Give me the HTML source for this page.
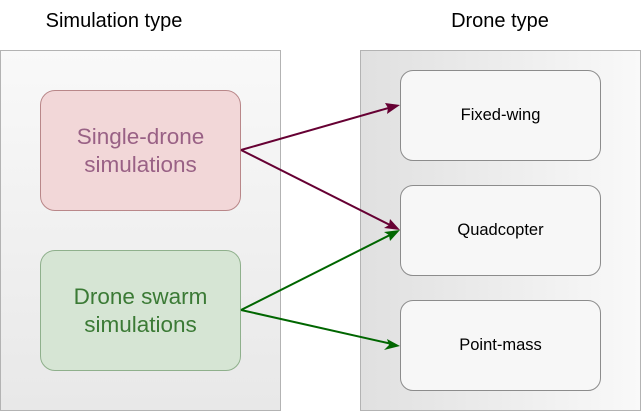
<!DOCTYPE html>
<html><head><style>
body{margin:0;width:641px;height:411px;background:#fff;position:relative;overflow:hidden;font-family:"Liberation Sans",Helvetica,Arial,sans-serif}
.t{position:absolute;top:10px;font-size:20px;color:#000;text-align:center;width:230px}
.c{position:absolute;box-sizing:border-box;border:1px solid #b3b3b3}
.b{position:absolute;box-sizing:border-box;border-radius:15px;display:flex;align-items:center;justify-content:center;text-align:center}
.r{border:1px solid #8c8c8c;background:#f7f7f7;font-size:16.5px;color:#000;width:201px;height:91px;left:400px;border-radius:13px}
</style></head><body>
<div class="t" style="left:0;width:228px">Simulation type</div>
<div class="t" style="left:385px">Drone type</div>
<div class="c" style="left:0;top:50px;width:281px;height:361px;background:linear-gradient(#f9f9f9,#e8e8e8)"></div>
<div class="c" style="left:360px;top:50px;width:281px;height:361px;background:linear-gradient(to right,#e0e0e0,#f9f9f9)"></div>
<div class="b" style="left:40px;top:90px;width:201px;height:121px;background:#f2d7d8;border:1px solid #b98789;color:#996185;font-size:22.5px;line-height:28px">Single-drone<br>simulations</div>
<div class="b" style="left:40px;top:250px;width:201px;height:121px;background:#d6e5d4;border:1px solid #8fb08c;color:#3b7a35;font-size:22.5px;line-height:28px">Drone swarm<br>simulations</div>
<div class="b r" style="top:70px">Fixed-wing</div>
<div class="b r" style="top:185px">Quadcopter</div>
<div class="b r" style="top:300px">Point-mass</div>
<svg width="641" height="411" style="position:absolute;left:0;top:0">
<g stroke-width="2" fill="none">
<line x1="241" y1="150" x2="392" y2="107" stroke="#660033"/>
<line x1="241" y1="150" x2="392" y2="226" stroke="#660033"/>
<line x1="241" y1="310" x2="392" y2="234" stroke="#006600"/>
<line x1="241" y1="310" x2="392" y2="344" stroke="#006600"/>
</g>
<polygon points="400,105 385,103 388,108 387,114" fill="#660033"/>
<polygon points="400,230 390,219 389,225 384,228" fill="#660033"/>
<polygon points="400,230 384,232 389,235 390,241" fill="#006600"/>
<polygon points="400,346 387,339 389,345 384,350" fill="#006600"/>
</svg>
</body></html>
